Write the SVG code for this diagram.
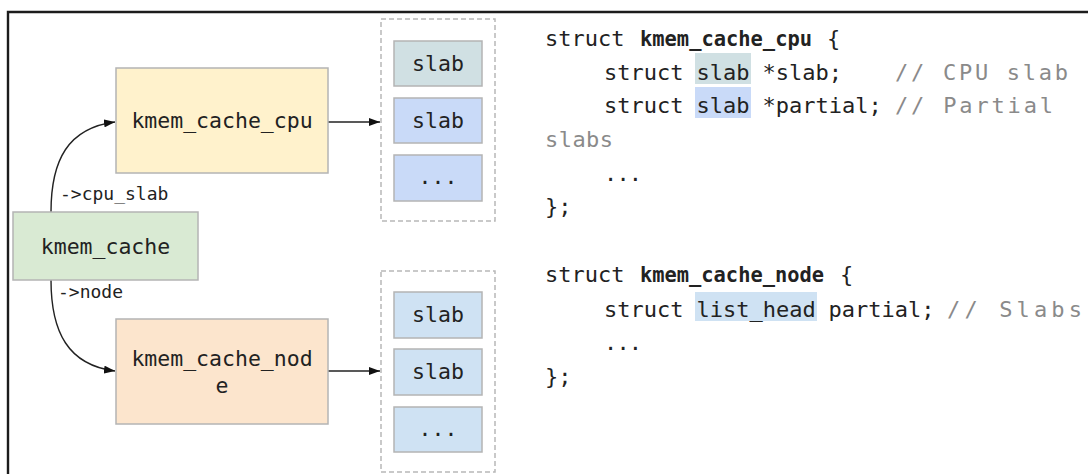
<svg xmlns="http://www.w3.org/2000/svg" width="1088" height="474" viewBox="0 0 1088 474">
  <style>
    .box { stroke: #b4b4b4; stroke-width: 1.5; }
    .dash { fill: none; stroke: #b8b8b8; stroke-width: 1.5; stroke-dasharray: 5 3; }
    .lbl { font-family: "DejaVu Sans Mono", "Liberation Mono", monospace; font-size: 21.5px; fill: #222; text-anchor: middle; }
    .edge { fill: none; stroke: #222; stroke-width: 1.4; }
    .elbl { font-family: "DejaVu Sans Mono", "Liberation Mono", monospace; font-size: 18px; fill: #222; }
    .code { font-family: "DejaVu Sans Mono", "Liberation Mono", monospace; font-size: 22px; fill: #222; }
    .kw { font-weight: bold; }
    .cm { fill: #8a8a8a; }
  </style>
  <defs>
    <marker id="arrow" viewBox="0 0 11 8" refX="11" refY="4" markerWidth="11" markerHeight="8" markerUnits="userSpaceOnUse" orient="auto">
      <path d="M0,0 L11,4 L0,8 Z" fill="#111"/>
    </marker>
  </defs>

  <!-- frame -->
  <path d="M8,474 V12 H1088" fill="none" stroke="#1c1c1c" stroke-width="2.4"/>

  <!-- connectors -->
  <g id="connectors">
    <path class="edge" d="M51,212 C51,160 68,128 115,122" marker-end="url(#arrow)"/>
    <path class="edge" d="M51,280 C51,332 68,365 115,371" marker-end="url(#arrow)"/>
    <path class="edge" d="M328,122 H380" marker-end="url(#arrow)"/>
    <path class="edge" d="M328,371 H380" marker-end="url(#arrow)"/>
    <text class="elbl" x="60" y="200">-&gt;cpu_slab</text>
    <text class="elbl" x="58" y="298">-&gt;node</text>
  </g>

  <!-- nodes -->
  <g id="kmem_cache">
    <rect class="box" x="13" y="212" width="185" height="68" fill="#d9ead3"/>
    <text class="lbl" x="105.5" y="254">kmem_cache</text>
  </g>
  <g id="kmem_cache_cpu">
    <rect class="box" x="116" y="68" width="212" height="105" fill="#fff2cc"/>
    <text class="lbl" x="222" y="128">kmem_cache_cpu</text>
  </g>
  <g id="kmem_cache_node">
    <rect class="box" x="116" y="319" width="212" height="105" fill="#fce5cd"/>
    <text class="lbl" x="222" y="366">kmem_cache_nod</text>
    <text class="lbl" x="222" y="393">e</text>
  </g>

  <g id="cpu_slabs">
    <rect class="dash" x="381" y="19" width="114" height="202"/>
    <rect class="box" x="394" y="41" width="88" height="45" fill="#d0e0e3"/>
    <text class="lbl" x="438" y="71">slab</text>
    <rect class="box" x="394" y="98" width="88" height="45" fill="#c9daf8"/>
    <text class="lbl" x="438" y="128">slab</text>
    <rect class="box" x="394" y="155" width="88" height="46" fill="#c9daf8"/>
    <text class="lbl" x="438" y="184">...</text>
  </g>

  <g id="node_slabs">
    <rect class="dash" x="381" y="271" width="114" height="201"/>
    <rect class="box" x="394" y="292" width="88" height="46" fill="#cfe2f3"/>
    <text class="lbl" x="438" y="322">slab</text>
    <rect class="box" x="394" y="349" width="88" height="46" fill="#cfe2f3"/>
    <text class="lbl" x="438" y="379">slab</text>
    <rect class="box" x="394" y="407" width="88" height="45" fill="#cfe2f3"/>
    <text class="lbl" x="438" y="436">...</text>
  </g>

  <!-- source listing -->
  <g id="code_cpu" class="code">
    <rect x="695" y="53" width="56" height="31" fill="#d0e0e3"/>
    <rect x="695" y="87" width="56" height="31" fill="#c9daf8"/>
    <text x="545" y="46">struct <tspan class="kw" x="640" textLength="172" lengthAdjust="spacingAndGlyphs">kmem_cache_cpu</tspan><tspan x="827">{</tspan></text>
    <text x="604" y="79.5">struct <tspan x="696.6">slab</tspan><tspan x="762.6">*slab;</tspan><tspan class="cm" x="895" textLength="173">// CPU slab</tspan></text>
    <text x="604" y="113">struct <tspan x="696.6">slab</tspan><tspan x="762.6">*partial;</tspan><tspan class="cm" x="895" textLength="158">// Partial</tspan></text>
    <text class="cm" x="545" y="147" textLength="68">slabs</text>
    <text x="604" y="181" textLength="38">...</text>
    <text x="545" y="214">};</text>
  </g>

  <g id="code_node" class="code">
    <rect x="695" y="292" width="122" height="29" fill="#cfe2f3"/>
    <text x="545" y="282">struct <tspan class="kw" x="640" textLength="184" lengthAdjust="spacingAndGlyphs">kmem_cache_node</tspan><tspan x="840">{</tspan></text>
    <text x="604" y="316.5">struct <tspan x="696.6">list_head</tspan><tspan x="828.6">partial;</tspan><tspan class="cm" x="947" textLength="135">// Slabs</tspan></text>
    <text x="604" y="350" textLength="38">...</text>
    <text x="545" y="384">};</text>
  </g>
</svg>
